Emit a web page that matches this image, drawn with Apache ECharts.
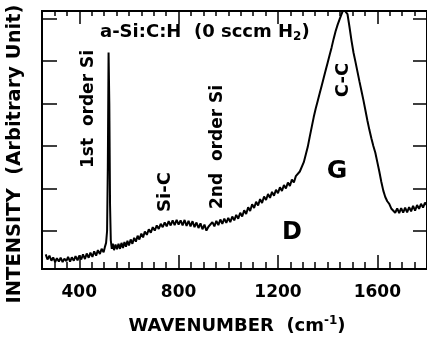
<!DOCTYPE html>
<html>
<head>
<meta charset="utf-8">
<script src="https://cdn.jsdelivr.net/npm/echarts@6/dist/echarts.min.js"></script>
<style>html,body{margin:0;padding:0;background:#fff}#c{width:427px;height:341px}</style>
</head>
<body>
<div id="c"></div>
<script>
// Raman spectrum of a-Si:C:H (0 sccm H2) — wavenumber (cm-1) vs intensity (arbitrary unit)
const wavenumber = [
 265,272,280,288,295,303,310,318,325,333,340,348,355,363,370,378,385,393,400,408,
 415,423,430,438,445,453,460,468,475,483,490,498,503,508,512,515,518,521,524,527,
 531,535,540,546,552,558,564,570,576,582,588,594,600,607,614,621,628,635,642,650,
 657,664,672,680,688,696,704,712,720,728,736,744,752,760,768,776,784,792,800,808,
 816,824,832,840,848,856,864,872,880,888,896,904,912,920,928,936,944,952,960,968,
 976,984,992,1000,1008,1016,1024,1032,1040,1048,1056,1064,1072,1080,1088,1096,1104,1112,1120,1128,
 1136,1144,1152,1160,1168,1176,1184,1192,1200,1208,1216,1224,1232,1240,1248,1256,1264,1272,1280,1288,
 1296,1304,1312,1320,1328,1336,1344,1352,1360,1368,1376,1384,1392,1400,1408,1416,1424,1432,1440,1448,
 1456,1464,1472,1480,1488,1496,1504,1512,1520,1528,1536,1544,1552,1560,1568,1576,1584,1592,1600,1608,
 1616,1624,1632,1640,1648,1656,1664,1672,1680,1688,1696,1704,1712,1720,1728,1736,1744,1752,1760,1768,
 1776,1784,1792,1800
];
const intensity = [
 0.45,0.33,0.42,0.30,0.38,0.27,0.36,0.28,0.37,0.27,0.35,0.29,0.39,0.28,0.38,0.30,0.41,0.31,0.42,0.33,
 0.45,0.34,0.47,0.37,0.49,0.39,0.52,0.42,0.55,0.46,0.58,0.50,0.62,0.72,1.00,2.50,5.20,4.00,1.60,0.78,
 0.58,0.70,0.55,0.68,0.57,0.70,0.58,0.72,0.60,0.74,0.63,0.77,0.66,0.80,0.70,0.84,0.75,0.89,0.80,0.94,
 0.85,0.99,0.91,1.04,0.96,1.09,1.01,1.13,1.05,1.17,1.09,1.20,1.11,1.23,1.13,1.25,1.14,1.26,1.15,1.25,
 1.13,1.26,1.12,1.24,1.11,1.23,1.09,1.20,1.07,1.18,1.04,1.15,1.01,1.10,1.09,1.21,1.11,1.24,1.14,1.27,
 1.17,1.29,1.19,1.31,1.21,1.34,1.25,1.38,1.29,1.43,1.34,1.49,1.40,1.56,1.47,1.63,1.54,1.69,1.60,1.75,
 1.66,1.81,1.73,1.87,1.78,1.92,1.83,1.97,1.89,2.03,1.94,2.08,2.00,2.14,2.06,2.21,2.14,2.29,2.25,2.40,
 2.43,2.62,2.80,2.98,3.22,3.45,3.68,3.88,4.06,4.24,4.42,4.60,4.78,4.96,5.14,5.32,5.52,5.70,5.85,5.98,
 6.10,6.22,6.20,6.10,5.80,5.48,5.20,4.98,4.75,4.52,4.30,4.08,3.84,3.60,3.38,3.18,3.00,2.84,2.62,2.40,
 2.16,1.95,1.80,1.70,1.64,1.53,1.55,1.43,1.53,1.42,1.54,1.43,1.55,1.44,1.56,1.46,1.59,1.48,1.61,1.52,
 1.64,1.55,1.67,1.60
];
const xMajorTicks = [400, 800, 1200, 1600];
const xMinorTicks = [300,350,450,500,550,600,650,700,750,850,900,950,1000,1050,1100,1150,1250,1300,1350,1400,1450,1500,1550,1650,1700,1750];
const yTicks = [1, 2, 3, 4, 5, 6];
const xRange = [250, 1800];
const yRange = [0.106, 6.176];

const FONT = '"DejaVu Sans", Verdana, sans-serif';
const seriesData = wavenumber.map((w, i) => [w, intensity[i]]);
const GRID_RECT = { left: 42, top: 11, width: 386, height: 258, containLabel: false };

function xAxisDef(grid, pos, ticks, len, showLabel) {
  return {
    type: 'value', gridIndex: grid, position: pos, min: xRange[0], max: xRange[1],
    axisLine: { show: true, onZero: false, lineStyle: { color: '#000', width: 2 } },
    axisTick: { show: true, inside: true, length: len, customValues: ticks, lineStyle: { color: '#000', width: 1.5 } },
    axisLabel: showLabel ? { show: true, customValues: xMajorTicks, formatter: v => String(v), color: '#000', fontFamily: FONT, fontWeight: 'bold', fontSize: 17, margin: 15 } : { show: false },
    splitLine: { show: false }
  };
}
function yAxisDef(grid, pos, len, show) {
  return {
    type: 'value', gridIndex: grid, position: pos, min: yRange[0], max: yRange[1], show: show,
    axisLine: { show: true, onZero: false, lineStyle: { color: '#000', width: 2 } },
    axisTick: { show: true, inside: true, length: len, customValues: yTicks, lineStyle: { color: '#000', width: 1.5 } },
    axisLabel: { show: false },
    splitLine: { show: false }
  };
}

const chart = echarts.init(document.getElementById('c'), null, { renderer: 'canvas' });
chart.setOption({
  animation: false,
  backgroundColor: '#fff',
  grid: [ Object.assign({}, GRID_RECT), Object.assign({}, GRID_RECT) ],
  xAxis: [
    xAxisDef(0, 'bottom', xMinorTicks, 7, false),
    xAxisDef(0, 'top', xMinorTicks, 5, false),
    xAxisDef(1, 'bottom', xMajorTicks, 14, true),
    xAxisDef(1, 'top', xMajorTicks, 13, false)
  ],
  yAxis: [ yAxisDef(0, 'left', 15, true), yAxisDef(0, 'right', 14, true), yAxisDef(1, 'left', 0, false) ],
  series: [{
    type: 'line', xAxisIndex: 0, yAxisIndex: 0, data: seriesData,
    showSymbol: false, clip: true,
    lineStyle: { color: '#000', width: 2 }
  }],
  graphic: [
    { type: 'text', x: 100, y: 32, style: { text: 'a-Si:C:H  (0 sccm H{sub|2})', font: 'bold 18px ' + FONT, fill: '#000', textVerticalAlign: 'middle',
        rich: { sub: { font: 'bold 12px ' + FONT, fill: '#000', padding: [10, 0, 0, 0] } } } },
    { type: 'text', x: 89, y: 109, rotation: Math.PI / 2, style: { text: '1st  order Si', font: 'bold 17px ' + FONT, fill: '#000', textAlign: 'center', textVerticalAlign: 'middle' } },
    { type: 'text', x: 218, y: 147, rotation: Math.PI / 2, style: { text: '2nd  order Si', font: 'bold 17px ' + FONT, fill: '#000', textAlign: 'center', textVerticalAlign: 'middle' } },
    { type: 'text', x: 165, y: 192, rotation: Math.PI / 2, style: { text: 'Si-C', font: 'bold 18px ' + FONT, fill: '#000', textAlign: 'center', textVerticalAlign: 'middle' } },
    { type: 'text', x: 343, y: 80, rotation: Math.PI / 2, style: { text: 'C-C', font: 'bold 18px ' + FONT, fill: '#000', textAlign: 'center', textVerticalAlign: 'middle' } },
    { type: 'text', x: 337, y: 171, style: { text: 'G', font: 'bold 25px ' + FONT, fill: '#000', textAlign: 'center', textVerticalAlign: 'middle' } },
    { type: 'text', x: 292, y: 233, style: { text: 'D', font: 'bold 24px ' + FONT, fill: '#000', textAlign: 'center', textVerticalAlign: 'middle' } },
    { type: 'text', x: 237, y: 326, style: { text: 'WAVENUMBER  (cm{sup|-1})', font: 'bold 18px ' + FONT, fill: '#000', textAlign: 'center', textVerticalAlign: 'middle',
        rich: { sup: { font: 'bold 12px ' + FONT, fill: '#000', padding: [0, 0, 10, 0] } } } },
    { type: 'text', x: 15, y: 154, rotation: Math.PI / 2, style: { text: 'INTENSITY  (Arbitrary Unit)', font: 'bold 19.5px ' + FONT, fill: '#000', textAlign: 'center', textVerticalAlign: 'middle' } }
  ]
});
</script>
</body>
</html>
